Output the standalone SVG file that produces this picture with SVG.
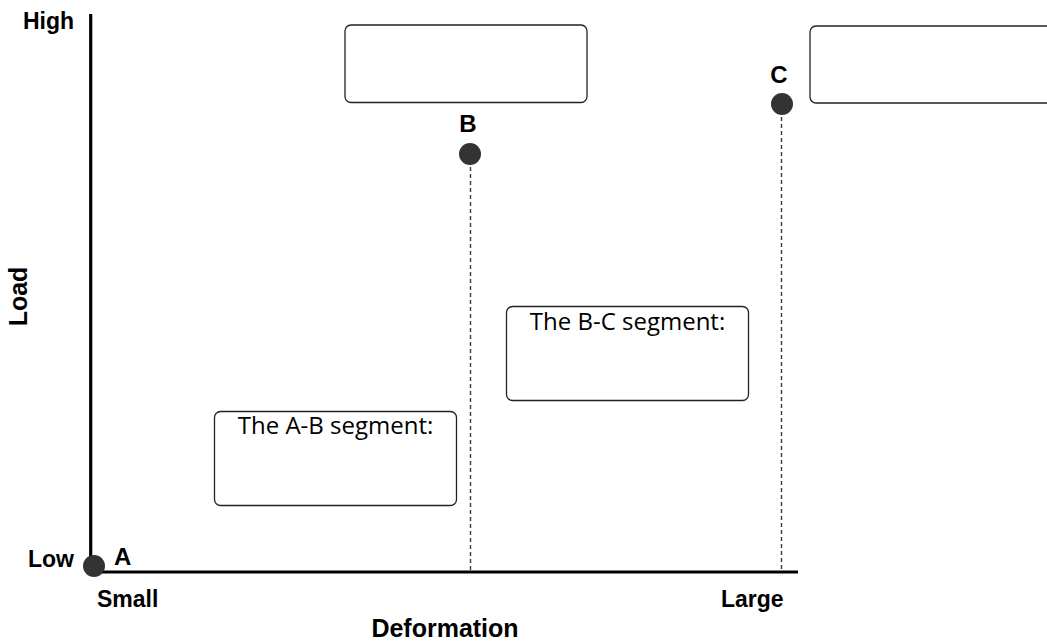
<svg xmlns="http://www.w3.org/2000/svg" width="1047" height="643" viewBox="0 0 1047 643">
<style>
.lbl{font-family:"Liberation Sans",Arial,sans-serif;font-weight:bold;fill:#000}
.ax{font-size:23px}
.pt{font-size:24px}
.title{font-size:25px}
.box{fill:#fff;stroke:#222;stroke-width:1.3}
.seg{font-family:"Open Sans","Noto Sans",sans-serif;font-size:24px;fill:#000}
.dash{stroke:#3a3a3a;stroke-width:1.4;stroke-dasharray:4 3;fill:none}
.axis{stroke:#000;stroke-width:3.2;fill:none}
.dot{fill:#333}
</style>
<rect width="1047" height="643" fill="#fff"/>
<g id="connectors">
<line class="dash" x1="470.5" y1="160" x2="470.5" y2="571"/>
<line class="dash" x1="781.5" y1="110" x2="781.5" y2="571"/>
</g>
<g id="axes">
<line class="axis" x1="90.7" y1="14" x2="90.7" y2="573.6"/>
<line class="axis" x1="89" y1="572" x2="798" y2="572"/>
<text class="lbl ax" x="23" y="29">High</text>
<text class="lbl ax" x="28" y="567">Low</text>
<text class="lbl ax" x="97" y="607">Small</text>
<text class="lbl ax" x="721" y="607">Large</text>
<text class="lbl title" x="445" y="637" text-anchor="middle">Deformation</text>
<text class="lbl title" transform="translate(27 296.5) rotate(-90)" text-anchor="middle">Load</text>
</g>
<g id="pointA">
<circle class="dot" cx="94" cy="566" r="11"/>
<text class="lbl pt" x="114" y="565">A</text>
</g>
<g id="pointB">
<circle class="dot" cx="470" cy="154" r="11"/>
<text class="lbl pt" x="468" y="132" text-anchor="middle">B</text>
</g>
<g id="pointC">
<circle class="dot" cx="782" cy="104" r="11"/>
<text class="lbl pt" x="779" y="83" text-anchor="middle">C</text>
</g>
<g id="boxTop">
<rect class="box" x="345" y="25" width="242" height="77.5" rx="6"/>
</g>
<g id="boxRight">
<rect class="box" x="810" y="26" width="250" height="77" rx="6"/>
</g>
<g id="boxAB">
<rect class="box" x="214.5" y="411.5" width="242" height="94" rx="6"/>
<text class="seg" x="335.5" y="434" text-anchor="middle">The A-B segment:</text>
</g>
<g id="boxBC">
<rect class="box" x="506.5" y="306.5" width="242" height="94" rx="6"/>
<text class="seg" x="627.5" y="330" text-anchor="middle">The B-C segment:</text>
</g>
</svg>
